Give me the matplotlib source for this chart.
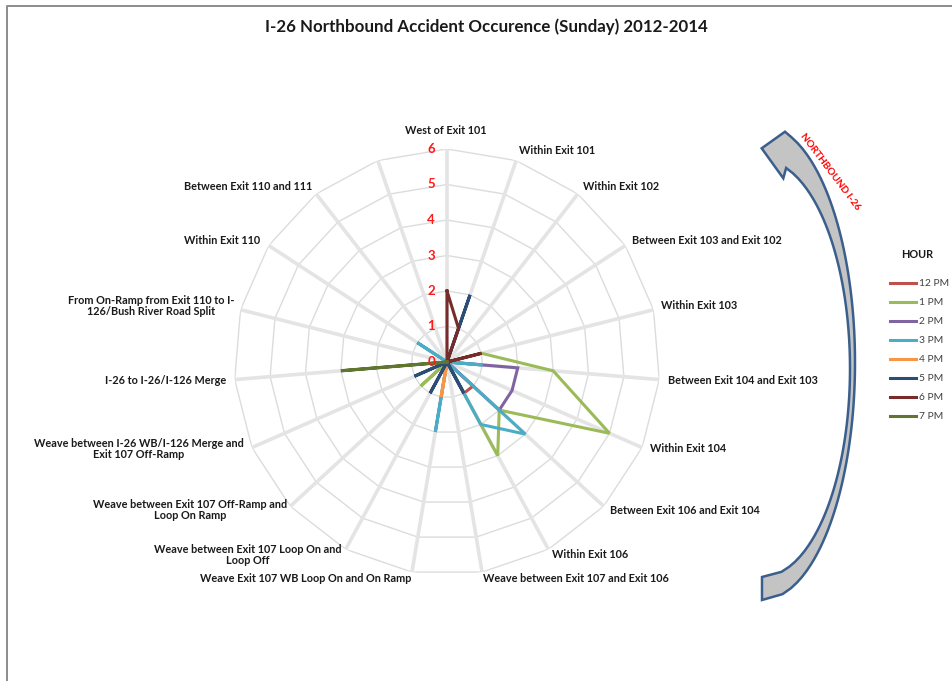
import numpy as np
import matplotlib
matplotlib.use("Agg")
import matplotlib.pyplot as plt
from matplotlib.path import Path
from matplotlib.patches import PathPatch
from matplotlib.transforms import ScaledTranslation

# ---- data -------------------------------------------------------------
categories = [
    "West of Exit 101",
    "Within Exit 101",
    "Within Exit 102",
    "Between Exit 103 and Exit 102",
    "Within Exit 103",
    "Between Exit 104 and Exit 103",
    "Within Exit 104",
    "Between Exit 106 and Exit 104",
    "Within Exit 106",
    "Weave between Exit 107 and Exit 106",
    "Weave Exit 107 WB Loop On and On Ramp",
    "Weave between Exit 107 Loop On and\nLoop Off",
    "Weave between Exit 107 Off-Ramp and\nLoop On Ramp",
    "Weave between I-26 WB/I-126 Merge and\nExit 107 Off-Ramp",
    "I-26 to I-26/I-126 Merge",
    "From On-Ramp from Exit 110 to I-\n126/Bush River Road Split",
    "Within Exit 110",
    "Between Exit 110 and 111",
    "",
]

hours = ["12 PM", "1 PM", "2 PM", "3 PM", "4 PM", "5 PM", "6 PM", "7 PM"]

pm12 = [0, 0, 0, 0, 0, 0, 0, 1, 1, 0, 0, 0, 0, 0, 0, 0, 0, 0, 0]
pm1  = [0, 0, 0, 0, 1, 3, 5, 2, 3, 0, 0, 0, 1, 0, 0, 0, 0, 0, 0]
pm2  = [0, 0, 0, 0, 0, 2, 2, 2, 0, 0, 0, 0, 0, 0, 0, 0, 0, 0, 0]
pm3  = [0, 0, 0, 0, 0, 1, 0, 3, 2, 0, 2, 0, 0, 0, 0, 0, 1, 0, 0]
pm4  = [0, 0, 0, 0, 0, 0, 0, 0, 0, 0, 1, 0, 0, 0, 0, 0, 0, 0, 0]
pm5  = [0, 2, 0, 0, 0, 0, 0, 0, 1, 0, 0, 1, 0, 1, 0, 0, 0, 0, 0]
pm6  = [2, 1, 0, 0, 1, 0, 0, 0, 0, 0, 0, 0, 0, 0, 0, 0, 0, 0, 0]
pm7  = [0, 0, 0, 0, 0, 0, 0, 0, 0, 0, 0, 0, 0, 0, 3, 0, 0, 0, 0]

series = [pm12, pm1, pm2, pm3, pm4, pm5, pm6, pm7]
colors = ["#C0504D", "#9BBB59", "#8064A2", "#4BACC6",
          "#F79646", "#2C4D75", "#772C2A", "#5F7530"]

r_ticks = [0, 1, 2, 3, 4, 5, 6]

# ---- figure -----------------------------------------------------------
W, H = 952, 681
fig = plt.figure(figsize=(W / 100, H / 100), dpi=100)
fig.patch.set_facecolor("white")

FONT = "Lato"
TXT = "#1a1a1a"

def px(x, y):
    return x / W, 1 - y / H

# polar axes centred at (447, 362) px, radius 213 px
cx, cy, R = 447, 362, 213
ax = fig.add_axes([(cx - R) / W, (H - cy - R) / H, 2 * R / W, 2 * R / H],
                  projection="polar")
ax.set_theta_zero_location("N")
ax.set_theta_direction(-1)
ax.set_ylim(0, max(r_ticks))
ax.grid(False)
ax.set_xticks([])
ax.set_yticks([])
ax.spines["polar"].set_visible(False)
ax.patch.set_alpha(0)

n = len(categories)
theta = np.arange(n) * 2 * np.pi / n
theta_closed = np.append(theta, theta[0])

# polygon grid rings and spokes
for r in r_ticks[1:]:
    ax.plot(theta_closed, [r] * (n + 1), color="#DCDCDC", lw=1.0, zorder=1)
for t in theta:
    ax.plot([t, t], [0, max(r_ticks)], color="#E4E4E4", lw=2.6, zorder=1,
            solid_capstyle="butt")

# radial value labels
off = ScaledTranslation(-16 / 100, 0, fig.dpi_scale_trans)
for r in r_ticks:
    ax.text(0, r, str(r), transform=ax.transData + off, ha="center",
            va="center", color="#FF1A1A", fontsize=9.5, fontweight="bold",
            family=FONT, zorder=5)

# series lines
handles = []
for vals, col, name in zip(series, colors, hours):
    v = list(vals) + [vals[0]]
    ln, = ax.plot(theta_closed, v, color=col, lw=2.2, zorder=3,
                  solid_joinstyle="miter", label=name)
    handles.append(ln)

# category labels: anchor (x, y centre) in pixels and horizontal alignment
label_anchor = [
    (446, 131, "center"), (519, 151, "left"), (583, 186, "left"),
    (632, 241, "left"), (661, 306, "left"), (668, 380, "left"),
    (650, 449, "left"), (610, 510, "left"), (552, 555, "left"),
    (483, 579, "left"), (411, 579, "right"), (341, 555, "right"),
    (287, 510, "right"), (244, 449, "right"), (226, 380, "right"),
    (234, 306, "right"), (260, 241, "right"), (312, 186, "right"),
    (377, 150, "right"),
]
for name, (x, y, ha) in zip(categories, label_anchor):
    if not name:
        continue
    fig.text(*px(x, y), name, ha=ha, va="center", multialignment="center",
             fontsize=7.8, fontweight="bold", family=FONT, color=TXT,
             linespacing=1.1)

# title
fig.text(*px(486, 27), "I-26 Northbound Accident Occurence (Sunday) 2012-2014",
         ha="center", va="center", fontsize=12.2, fontweight="bold",
         family=FONT, color=TXT)

# legend with its heading
fig.text(*px(917, 255), "HOUR", ha="center", va="center", fontsize=7.8,
         fontweight="bold", family=FONT, color=TXT)
leg = fig.legend(handles=handles, labels=hours,
                 loc="upper left", bbox_to_anchor=px(881, 270),
                 frameon=False, handlelength=2.5, handletextpad=0.3,
                 labelspacing=0.95, prop={"family": FONT, "size": 7.4})
for t in leg.get_texts():
    t.set_color("#404040")

# overlay in pixel space for the direction arrow and frame
ov = fig.add_axes([0, 0, 1, 1])
ov.set_xlim(0, W)
ov.set_ylim(H, 0)
ov.axis("off")
ov.patch.set_alpha(0)

# chart frame (top and left edges)
ov.plot([7, 7, W], [H, 6, 6], color="#8C8C8C", lw=1.4)

# curved "northbound" arrow
ax_c = 762
def ell(rx, ry, ecy, y_from, y_to, npts=80):
    ys = np.linspace(y_from, y_to, npts)
    xs = ax_c + rx * np.sqrt(np.clip(1 - ((ys - ecy) / ry) ** 2, 0, 1))
    return xs, ys

ox, oy = ell(93, 237.5, 362.5, 600, 137.3)
ix, iy = ell(88, 208.5, 368.5, 168, 577)
ox[0] = ax_c
ix[-1] = ax_c
verts = list(zip(ox, oy))
verts += [(785, 131.7), (761.7, 148.3), (783.3, 178.3)]
verts += list(zip(ix, iy))
verts.append(verts[0])
codes = [Path.MOVETO] + [Path.LINETO] * (len(verts) - 2) + [Path.CLOSEPOLY]
arrow = PathPatch(Path(verts, codes), facecolor="#C4C4C4",
                  edgecolor="#3B5F8C", lw=1.8, joinstyle="miter")
ov.add_patch(arrow)

ov.text(830, 172, "NORTHBOUND I-26", rotation=-53, ha="center", va="center",
        color="#FF0000", fontsize=7.2, fontweight="bold", family=FONT,
        rotation_mode="anchor")

fig.savefig("out.png", dpi=100)
